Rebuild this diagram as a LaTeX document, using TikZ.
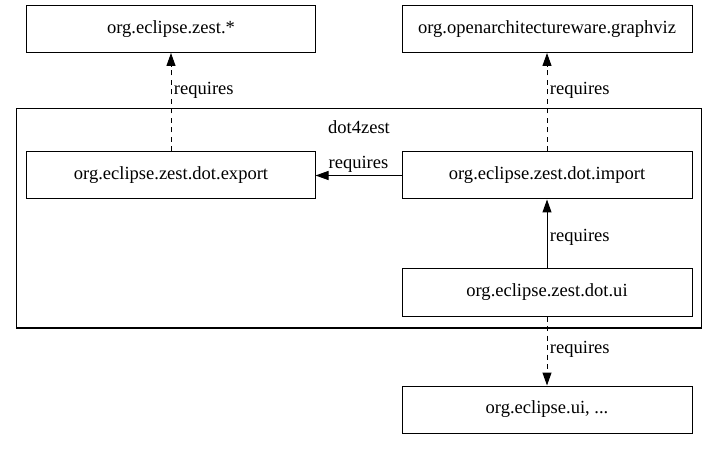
\documentclass[tikz,border=0pt]{standalone}
\usepackage{fontspec}
\setmainfont{Liberation Serif}
\usetikzlibrary{
    arrows.meta,
    positioning
}
\tikzset{
    every picture/.style = {
        > = {Triangle[length = 13bp, width = 9bp]},
        line width = 1bp,
        x = 1bp,
        y = -1bp
    },
    bundle/.style = {
        draw,
        rectangle,
        inner sep = 1pt,
        minimum height = 47bp
    },
    cluster/.style = {
        draw,
        line width = 1bp
    },
    requires/.style = {
        inner sep = 1pt,
        outer sep = 2pt
    },
    optional/.style = {
        dash pattern = on 5bp off 4.5bp
    }
}

\begin{document}
\begin{tikzpicture}[font = {\fontsize{18.6}{22}\selectfont}]
    \useasboundingbox (0, 0) rectangle (717, 451);
    % cluster
    \draw[cluster] (16, 109) rectangle (701, 328);
    \node (dotlabel) at (359, 127) {dot4zest};
    % bundles
    \node[bundle, minimum width = 288bp] (zest) at (171, 29) {org.eclipse.zest.*};
    \node[bundle, minimum width = 290bp] (graphviz) at (547, 29) {org.openarchitectureware.graphviz};
    \node[bundle, minimum width = 288bp] (export) at (171, 175.5) {org.eclipse.zest.dot.export};
    \node[bundle, minimum width = 290bp] (import) at (547, 175.5) {org.eclipse.zest.dot.import};
    \node[bundle, minimum width = 290bp] (ui) at (547, 292.5) {org.eclipse.zest.dot.ui};
    \node[bundle, minimum width = 290bp] (eclipseui) at (547, 409.5) {org.eclipse.ui, ...};
    % dependencies
    \draw[->, optional] (export) -- (zest)
        node[requires, pos = 0.62, right] {requires};
    \draw[->, optional] (import) -- (graphviz)
        node[requires, pos = 0.62, right] {requires};
    \draw[->] (import) -- (export)
        node[requires, midway, above] {requires};
    \draw[->] (ui) -- (import)
        node[requires, pos = 0.45, right] {requires};
    \draw[->, optional] (ui) -- (eclipseui)
        node[requires, pos = 0.48, right] {requires};
\end{tikzpicture}
\end{document}
